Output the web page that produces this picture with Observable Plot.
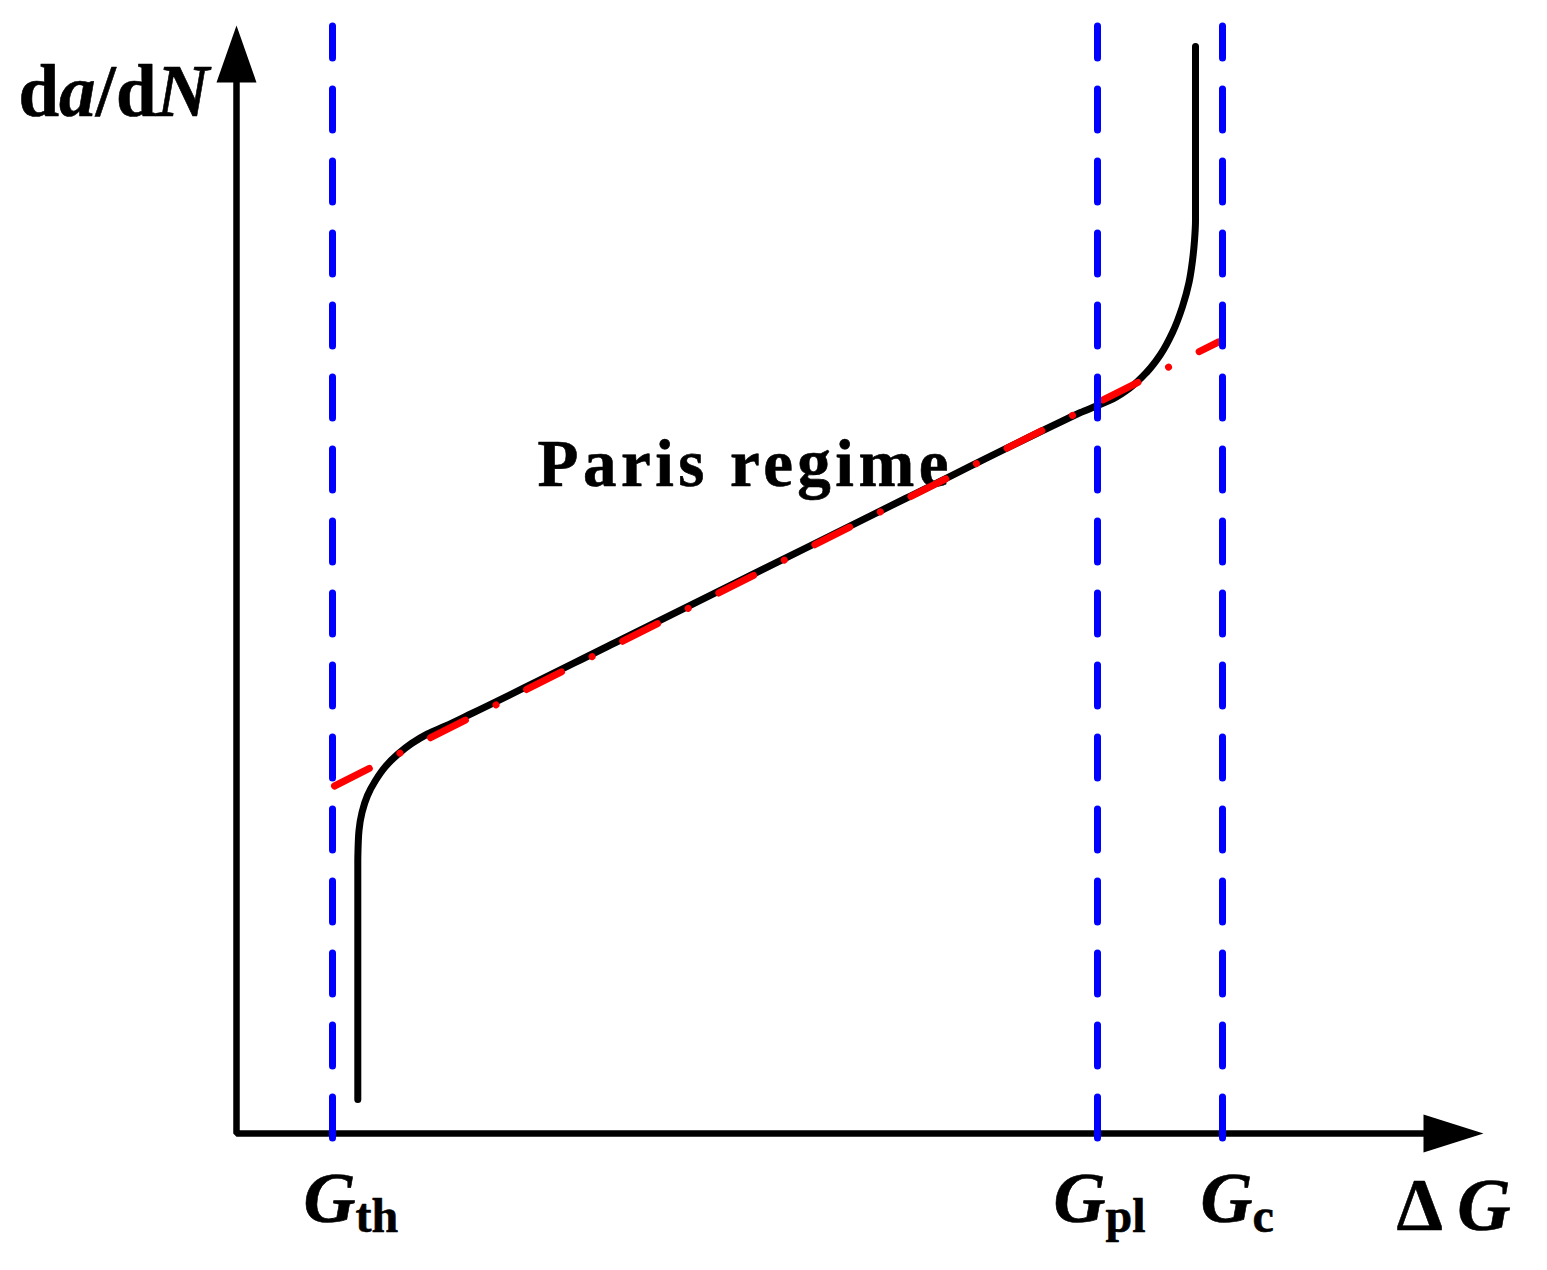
<!DOCTYPE html>
<html><head><meta charset="utf-8">
<script src="https://cdn.jsdelivr.net/npm/d3@7"></script>
<script src="https://cdn.jsdelivr.net/npm/@observablehq/plot@0.6"></script>
<style>html,body{margin:0;padding:0;background:#fff}#chart svg{display:block}</style>
</head><body><div id="chart"></div>
<script>
// ---- data (schematic units: ΔG horizontally, da/dN vertically) ----
const thresholdNames = ["th", "pl", "c"];
const thresholdValues = [0.96, 8.61, 9.86];
const curveDeltaG = [1.213, 1.213, 1.215, 1.225, 1.255, 1.31, 1.39, 1.49, 1.61, 1.75, 1.91, 2.09, 2.32, 3.79, 5.24, 6.69, 8.24, 8.44, 8.61, 8.77, 8.94, 9.10, 9.24, 9.36, 9.46, 9.525, 9.56, 9.58, 9.59, 9.59];
const curveRate   = [0.34, 2.73, 2.83, 3.03, 3.21, 3.38, 3.53, 3.67, 3.79, 3.90, 3.995, 4.075, 4.185, 4.91, 5.63, 6.35, 7.115, 7.21, 7.28, 7.35, 7.46, 7.61, 7.79, 8.01, 8.27, 8.51, 8.73, 8.93, 9.13, 10.87];
const parisDeltaG = [0.98, 9.82];
const parisRate   = [3.475, 7.915];
const annotationText = "Paris regime";
const annotationDeltaG = 3.01;
const annotationRate = 6.48;
const yAxisLabel = "da/dN";
const xAxisLabel = "ΔG";
const xAxisEnd = 12.47;
const yAxisEnd = 11.08;

// ---- tables built from the arrays ----
const curve = curveDeltaG.map((x, i) => ({x, y: curveRate[i]}));
const paris = parisDeltaG.map((x, i) => ({x, y: parisRate[i]}));
const axisPath = [{x: 0, y: yAxisEnd - 0.5}, {x: 0, y: 0}, {x: xAxisEnd - 0.55, y: 0}];

const arrowUp = {draw(ctx) { ctx.moveTo(0, 0); ctx.lineTo(20, 57); ctx.lineTo(-20, 57); ctx.closePath(); }};
const arrowRight = {draw(ctx) { ctx.moveTo(0, 0); ctx.lineTo(-60, -19); ctx.lineTo(-60, 19); ctx.closePath(); }};

const font = "Liberation Serif, Times New Roman, serif";
const labelDx = [-29, -44, -22];

const plot = Plot.plot({
  width: 1547,
  height: 1270,
  marginLeft: 236,
  marginRight: 61,
  marginTop: 23,
  marginBottom: 137,
  x: {domain: [0, 12.5], axis: null},
  y: {domain: [0, 11.1], axis: null},
  style: {background: "#fff", overflow: "visible"},
  marks: [
    Plot.text([annotationText], {x: () => annotationDeltaG, y: () => annotationRate, text: d => d,
      fontFamily: font, fontWeight: "bold", fontSize: 67, textAnchor: "start", lineAnchor: "bottom",
      fill: "black", stroke: "black", strokeWidth: 0.6}),
    Plot.line(axisPath, {x: "x", y: "y", stroke: "black", strokeWidth: 6.5, strokeLinejoin: "miter", strokeLinecap: "butt"}),
    Plot.dot([0], {x: () => 0, y: () => yAxisEnd, symbol: arrowUp, r: 10, fill: "black", stroke: "none"}),
    Plot.dot([0], {x: () => xAxisEnd, y: () => 0, symbol: arrowRight, r: 10, fill: "black", stroke: "none"}),
    Plot.line(curve, {x: "x", y: "y", curve: "monotone-y", stroke: "black", strokeWidth: 7, strokeLinecap: "round", strokeLinejoin: "round"}),
    Plot.line(paris, {x: "x", y: "y", stroke: "#ff0000", strokeWidth: 7, strokeLinecap: "round", strokeDasharray: "39,34.25,0.01,34.25"}),
    Plot.ruleX(thresholdValues, {x: d => d, y1: () => -0.05, y2: () => 11.07, stroke: "#0000ff", strokeWidth: 7, strokeLinecap: "round", strokeDasharray: "41,31"}),
    ...thresholdValues.map((v, i) => Plot.text([v], {x: d => d, y: () => 0, text: () => "G|" + thresholdNames[i],
      dx: labelDx[i], dy: 88, fontFamily: font, fontWeight: "bold", fontSize: 72, textAnchor: "start", lineAnchor: "bottom",
      fill: "black", stroke: "black", strokeWidth: 0.6})),
    Plot.text([xAxisLabel], {x: () => xAxisEnd, y: () => 0, text: d => d, dx: -87, dy: 96,
      fontFamily: font, fontWeight: "bold", fontSize: 74, textAnchor: "start", lineAnchor: "bottom",
      fill: "black", stroke: "black", strokeWidth: 0.6}),
    Plot.text([yAxisLabel], {x: () => 0, y: () => yAxisEnd, text: d => d, dx: -218, dy: 90,
      fontFamily: font, fontWeight: "bold", fontSize: 73, textAnchor: "start", lineAnchor: "bottom",
      fill: "black", stroke: "black", strokeWidth: 0.6})
  ]
});

// rich text (italic letters and subscripts) inside the Plot text elements
const NS = "http://www.w3.org/2000/svg";
function rich(el, parts) {
  el.textContent = "";
  for (const p of parts) {
    const t = document.createElementNS(NS, "tspan");
    t.textContent = p.t;
    if (p.it) t.setAttribute("font-style", "italic");
    if (p.size) t.setAttribute("font-size", p.size);
    if (p.dy) t.setAttribute("dy", p.dy);
    el.appendChild(t);
  }
}
plot.querySelectorAll("text").forEach(el => {
  const s = el.textContent;
  if (s.startsWith("G|")) {
    rich(el, [{t: "G", it: true}, {t: s.slice(2), size: 48, dy: 10}]);
  } else if (s === yAxisLabel) {
    rich(el, [{t: "d"}, {t: "a", it: true}, {t: "/"}, {t: "d"}, {t: "N", it: true}]);
  } else if (s === xAxisLabel) {
    rich(el, [{t: "Δ "}, {t: "G", it: true}]);
  } else if (s === annotationText) {
    el.setAttribute("letter-spacing", "4.5");
  }
});
document.getElementById("chart").appendChild(plot);
</script>
</body></html>
